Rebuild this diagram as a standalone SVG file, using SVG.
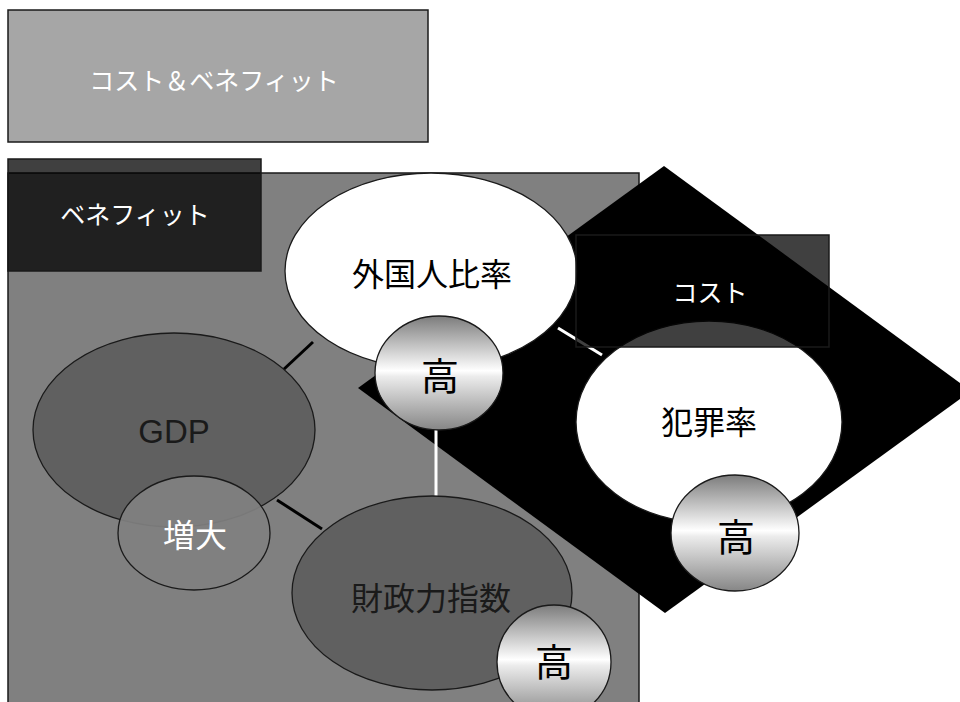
<svg xmlns="http://www.w3.org/2000/svg" width="960" height="702" viewBox="0 0 960 702">
<defs>
<linearGradient id="hi" x1="0" y1="0" x2="0" y2="1">
<stop offset="0" stop-color="#7c7c7c"/>
<stop offset="0.48" stop-color="#ffffff"/>
<stop offset="0.53" stop-color="#ececec"/>
<stop offset="1" stop-color="#868686"/>
</linearGradient>
</defs>
<style>
.box{stroke:#1a1a1a;stroke-width:1.5}
.ell{stroke:#1a1a1a;stroke-width:1.3}
.jp{font-family:"Noto Sans CJK JP","Noto Sans CJK SC",sans-serif;text-anchor:middle}
.lat{font-family:"Liberation Sans",Arial,sans-serif;text-anchor:middle}
.w{fill:#ffffff}
.k{fill:#000000}
.d{fill:#1a1a1a}
.hi{fill:url(#hi);stroke:#1a1a1a;stroke-width:1.3}
.lk{stroke:#000;stroke-width:3;fill:none}
.lw{stroke:#fff;stroke-width:3;fill:none}
</style>
<rect width="960" height="702" fill="#ffffff"/>
<g id="title">
<rect class="box" x="8" y="10" width="420" height="132" fill="#a6a6a6"/>
<text class="jp w" x="214" y="90" font-size="25">コスト＆ベネフィット</text>
</g>
<g id="benefit-area">
<rect class="box" x="8" y="173" width="631" height="540" fill="#808080"/>
</g>
<g id="benefit-label">
<rect class="box" x="8" y="159" width="253" height="112" fill="#000" fill-opacity="0.75"/>
<text class="jp w" x="135" y="224" font-size="25">ベネフィット</text>
</g>
<g id="cost-area">
<polygon points="664,166 971,391 665,613 358,388" fill="#000"/>
</g>
<g id="connectors">
<line class="lk" x1="313" y1="342" x2="283" y2="370"/>
<line class="lk" x1="277" y1="500" x2="322" y2="529"/>
<line class="lw" x1="436" y1="428" x2="436" y2="497"/>
<line class="lw" x1="558" y1="328" x2="602" y2="355"/>
</g>
<g id="node-gaikokujin">
<ellipse class="ell" cx="431" cy="271" rx="146" ry="98" fill="#ffffff"/>
<text class="jp k" x="432" y="286" font-size="32">外国人比率</text>
</g>
<g id="node-gdp">
<ellipse class="ell" cx="174" cy="430" rx="141" ry="97" fill="#606060"/>
<text class="lat d" x="174" y="443" font-size="33">GDP</text>
</g>
<g id="node-zoudai">
<ellipse class="ell" cx="194" cy="533" rx="76" ry="57" fill="#808080" fill-opacity="0.93"/>
<text class="jp w" x="195" y="547" font-size="32">増大</text>
</g>
<g id="node-zaisei">
<ellipse class="ell" cx="432" cy="593" rx="140" ry="97" fill="#606060"/>
<text class="jp d" x="431" y="610" font-size="32">財政力指数</text>
</g>
<g id="node-hanzai">
<ellipse class="ell" cx="709" cy="422" rx="133" ry="101" fill="#ffffff"/>
<text class="jp k" x="709" y="434" font-size="32">犯罪率</text>
</g>
<g id="cost-label">
<rect class="box" x="576" y="235" width="253" height="112" fill="#000" fill-opacity="0.75"/>
<text class="jp w" x="710" y="302" font-size="25">コスト</text>
</g>
<g id="node-high-1">
<ellipse class="hi" cx="439" cy="373" rx="64" ry="57"/>
<text class="jp k" x="440" y="390" font-size="38">高</text>
</g>
<g id="node-high-2">
<ellipse class="hi" cx="735" cy="533" rx="64" ry="58"/>
<text class="jp k" x="736" y="551" font-size="38">高</text>
</g>
<g id="node-high-3">
<ellipse class="hi" cx="554" cy="662" rx="57" ry="57"/>
<text class="jp k" x="554" y="676" font-size="38">高</text>
</g>
</svg>
